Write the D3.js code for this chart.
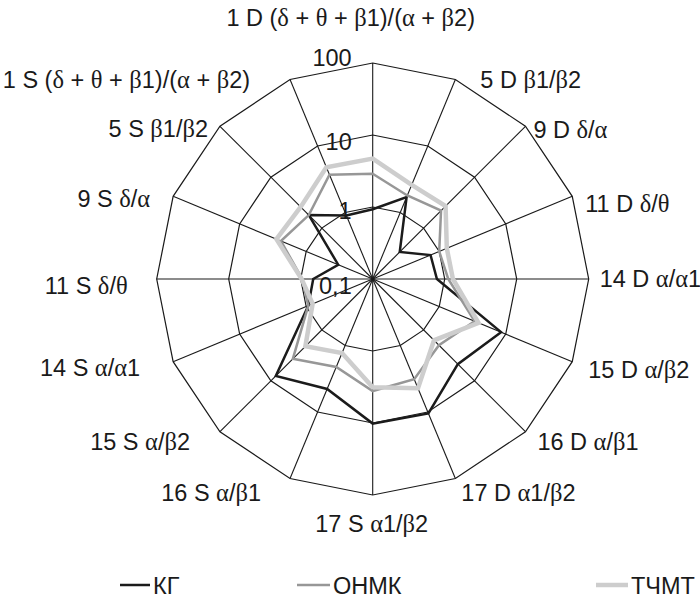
<!DOCTYPE html>
<html>
<head>
<meta charset="utf-8">
<script src="https://cdn.jsdelivr.net/npm/d3@7"></script>
<style>
  html, body { margin: 0; padding: 0; background: #fff; }
  svg { display: block; font-family: "Liberation Sans", Arial, Helvetica, sans-serif; }
</style>
</head>
<body>
<svg id="chart" width="700" height="610"></svg>
<script>
// EEG index ratios per lead, log scale 0.1 … 100
const categories = [
  "1 D (δ + θ + β1)/(α + β2)", "5 D β1/β2", "9 D δ/α", "11 D δ/θ",
  "14 D α/α1", "15 D α/β2", "16 D α/β1", "17 D α1/β2",
  "17 S α1/β2", "16 S α/β1", "15 S α/β2", "14 S α/α1",
  "11 S δ/θ", "9 S δ/α", "5 S β1/β2", "1 S (δ + θ + β1)/(α + β2)"
];
const seriesNames = ["КГ", "ОНМК", "ТЧМТ"];
const valuesKG    = [0.93, 1.7, 0.34, 0.74, 0.78, 8.5, 4.7, 10.5, 10.2, 4.5, 8.0, 0.93, 0.67, 0.33, 1.8, 0.9];
const valuesONMK  = [2.9, 1.8, 2.2, 1.0, 1.12, 3.4, 2.0, 3.2, 3.6, 2.1, 3.7, 0.93, 0.95, 2.4, 1.8, 3.7];
const valuesTCHMT = [4.7, 2.6, 2.7, 1.3, 1.3, 3.9, 1.6, 4.4, 3.2, 1.3, 2.1, 0.8, 0.97, 2.8, 2.6, 4.8];
const tickValues = [0.1, 1, 10, 100];
const tickLabels = ["0,1", "1", "10", "100"];

// ---- layout ----
const cx = 372.7, cy = 279, R = 216;
const fontSize = 23.5;
const seriesStyle = [
  { color: "#1b1b1b", width: 2.5 },
  { color: "#979797", width: 2.5 },
  { color: "#cdcdcd", width: 4.5 }
];
// category label placement relative to the outer vertex: [anchor, dx, baseline dy]
const labelOffsets = [
  ["middle", -22, -37], ["start", 25, 9], ["start", 8, 12], ["start", 13, 16],
  ["start", 11, 8], ["start", 16, 16], ["start", 12, 18], ["start", 6, 22],
  ["middle", -1, 37], ["end", -29, 22], ["end", -30, 18], ["end", -33, 14],
  ["end", -29, 15], ["end", -23, 11], ["end", -12, 11], ["end", -40, 9]
];
// baseline shift of each tick label from its ring
const tickDy = [15, 12, 15, 3];
const legendItems = [
  { x: 120, len: 30 },
  { x: 297, len: 33 },
  { x: 596, len: 32 }
];
const legendY = 585;

const svg = d3.select("#chart");
const g = svg.append("g").attr("transform", `translate(${cx},${cy})`);

const rScale = d3.scaleLog().domain([0.1, 100]).range([0, R]);
const aScale = d3.scaleLinear().domain([0, categories.length]).range([0, 2 * Math.PI]);
const px = (a, rad) => rad * Math.sin(a);
const py = (a, rad) => -rad * Math.cos(a);

// ring polygons
const ringLine = d3.lineRadial()
  .angle((d, i) => aScale(i))
  .radius(d => d)
  .curve(d3.curveLinearClosed);
tickValues.filter(v => v > 0.1).forEach(v => {
  g.append("path")
    .attr("d", ringLine(categories.map(() => rScale(v))))
    .attr("fill", "none")
    .attr("stroke", "#1a1a1a")
    .attr("stroke-width", 1.2);
});

// spokes
g.selectAll("line.spoke")
  .data(categories)
  .join("line")
  .attr("class", "spoke")
  .attr("x1", 0).attr("y1", 0)
  .attr("x2", (d, i) => px(aScale(i), rScale(100)))
  .attr("y2", (d, i) => py(aScale(i), rScale(100)))
  .attr("stroke", "#1a1a1a")
  .attr("stroke-width", 1.1);

// series
const seriesLine = d3.lineRadial()
  .angle((d, i) => aScale(i))
  .radius(d => rScale(d))
  .curve(d3.curveLinearClosed);
[valuesKG, valuesONMK, valuesTCHMT].forEach((vals, k) => {
  g.append("path")
    .attr("d", seriesLine(vals))
    .attr("fill", "none")
    .attr("stroke", seriesStyle[k].color)
    .attr("stroke-width", seriesStyle[k].width)
    .attr("stroke-linejoin", "miter");
});

// text with Greek letters set in a serif face
function richText(sel, str) {
  const parts = str.match(/[\u0370-\u03FF]+|[^\u0370-\u03FF]+/g) || [];
  parts.forEach(p => {
    const t = sel.append("tspan").text(p);
    if (/[\u0370-\u03FF]/.test(p)) t.attr("font-family", "'Liberation Serif', 'Times New Roman', serif").attr("font-size", fontSize + 1);
  });
}

// tick labels
tickValues.forEach((v, i) => {
  g.append("text")
    .attr("x", -21)
    .attr("y", -rScale(v) + tickDy[i])
    .attr("text-anchor", "end")
    .attr("font-size", fontSize)
    .attr("fill", "#1a1a1a")
    .text(tickLabels[i]);
});

// category labels
categories.forEach((c, i) => {
  const a = aScale(i);
  const [anchor, dx, dy] = labelOffsets[i];
  const t = g.append("text")
    .attr("x", px(a, R) + dx)
    .attr("y", py(a, R) + dy)
    .attr("text-anchor", anchor)
    .attr("font-size", fontSize)
    .attr("fill", "#1a1a1a");
  richText(t, c);
});

// legend
seriesNames.forEach((name, k) => {
  const it = legendItems[k];
  svg.append("line")
    .attr("x1", it.x).attr("x2", it.x + it.len)
    .attr("y1", legendY).attr("y2", legendY)
    .attr("stroke", seriesStyle[k].color)
    .attr("stroke-width", seriesStyle[k].width);
  svg.append("text")
    .attr("x", it.x + it.len + 3)
    .attr("y", legendY + 9)
    .attr("font-size", fontSize)
    .attr("fill", "#1a1a1a")
    .text(name);
});
</script>
</body>
</html>
